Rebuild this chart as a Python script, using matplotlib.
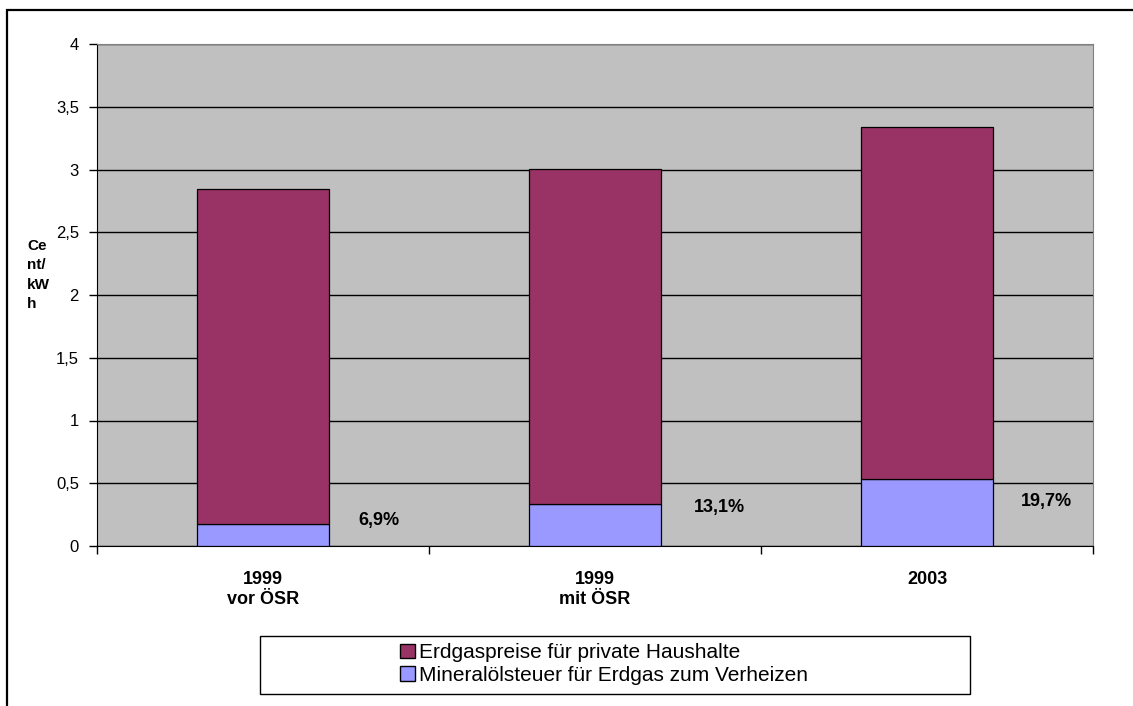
import matplotlib.pyplot as plt
from matplotlib.patches import Patch, Rectangle

# data (Cent/kWh)
categories = ["1999\nvor ÖSR", "1999\nmit ÖSR", "2003"]
steuer = [0.173, 0.335, 0.535]          # Mineralölsteuer für Erdgas zum Verheizen
preis = [2.67, 2.67, 2.80]              # Erdgaspreise für private Haushalte (on top)
anteil = ["6,9%", "13,1%", "19,7%"]
series_names = ["Erdgaspreise für private Haushalte",
                "Mineralölsteuer für Erdgas zum Verheizen"]

# label placement (x offset from bar centre, y in data units)
pct_pos = [(0.35, 0.20), (0.375, 0.31), (0.36, 0.355)]

plt.rcParams['font.family'] = ['Liberation Sans', 'DejaVu Sans']

W, H = 1133, 706
fig = plt.figure(figsize=(W / 100, H / 100), dpi=100)

# outer frame of the chart object (only left/top visible)
fig.patches.append(Rectangle((7 / W, -0.1), 1.2, 1 - 10 / H + 0.1, transform=fig.transFigure,
                             fill=False, edgecolor='black', linewidth=1.6))

ax = fig.add_axes([97 / W, (H - 546) / H, 996 / W, 502 / H])
ax.set_facecolor('#C0C0C0')

x = list(range(len(categories)))
ax.bar(x, steuer, width=0.4, color='#9999FF', edgecolor='black', linewidth=0.9, zorder=3)
ax.bar(x, preis, width=0.4, bottom=steuer, color='#993366', edgecolor='black', linewidth=0.9, zorder=3)

for i, t in enumerate(anteil):
    dx, y = pct_pos[i]
    ax.text(x[i] + dx, y, t, ha='center', va='center', fontsize=13, fontweight='bold', zorder=4)

ax.set_xlim(-0.5, 2.5)
ax.set_ylim(0, 4)
ax.set_yticks([0, 0.5, 1, 1.5, 2, 2.5, 3, 3.5, 4])
ax.set_yticklabels(["0", "0,5", "1", "1,5", "2", "2,5", "3", "3,5", "4"], fontsize=12)
ax.yaxis.grid(True, color='black', linewidth=1.0, zorder=1)
ax.set_axisbelow(True)

ax.set_xticks([-0.5, 0.5, 1.5, 2.5])
ax.set_xticklabels([])
ax.set_xticks(x, minor=True)
ax.set_xticklabels(categories, minor=True, fontsize=13, fontweight='bold')
ax.tick_params(axis='x', which='minor', length=0, pad=18)
ax.tick_params(axis='x', which='major', length=6, width=1, direction='out')
ax.tick_params(axis='y', length=6, width=1, direction='out', pad=7)

for s in ['top', 'right']:
    ax.spines[s].set_color('#808080')
ax.spines['left'].set_color('black')
ax.spines['bottom'].set_color('black')

fig.text(27 / W, 1 - 275 / H, "Ce\nnt/\nkW\nh", fontsize=11, fontweight='bold',
         ha='left', va='center', linespacing=1.5)

# legend box
fig.patches.append(Rectangle((260 / W, 1 - 694 / H), 710 / W, 58 / H, transform=fig.transFigure,
                             fill=True, facecolor='white', edgecolor='black', linewidth=1.0))
handles = [Patch(facecolor='#993366', edgecolor='black'),
           Patch(facecolor='#9999FF', edgecolor='black')]
fig.legend(handles, series_names, loc='center left', bbox_to_anchor=(400 / W, 1 - 664 / H),
           frameon=False, fontsize=15, handlelength=0.7, handleheight=0.7,
           handletextpad=0.2, labelspacing=0.15, borderaxespad=0, borderpad=0)

fig.savefig("out.png", dpi=100, facecolor='white')
